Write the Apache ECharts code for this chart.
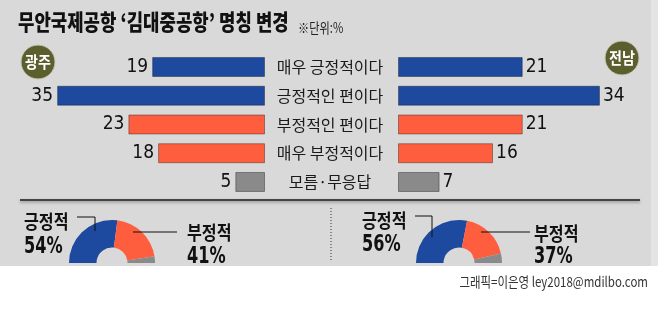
<!DOCTYPE html>
<html><head><meta charset="utf-8">
<script src="https://cdn.jsdelivr.net/npm/echarts@6/dist/echarts.min.js"></script>
<style>html,body{margin:0;padding:0;background:#fff}#c{width:658px;height:310px}</style>
</head><body><div id="c"></div>
<script>
var title = "무안국제공항 ‘김대중공항’ 명칭 변경";
var unitNote = "※단위:%";
var regions = ["광주", "전남"];
var categories = ["매우 긍정적이다", "긍정적인 편이다", "부정적인 편이다", "매우 부정적이다", "모름·무응답"];
var gwangju = [19, 35, 23, 18, 5];
var jeonnam = [21, 34, 21, 16, 7];
var summaryNames = ["긍정적", "부정적", "모름·무응답"];
var gwangjuSummary = [54, 41, 5];
var jeonnamSummary = [56, 37, 7];
var credit = "그래픽=이은영 ley2018@mdilbo.com";

var BLUE = "#1d4a9e", RED = "#ff5e3e", GRAY = "#8a8a8a";
var barColors = [BLUE, BLUE, RED, RED, GRAY];
var KR = "'Noto Sans CJK KR','Noto Sans',sans-serif";
var NUM = "'Liberation Sans Narrow','DejaVu Sans Condensed','Liberation Sans',sans-serif";

var chart = echarts.init(document.getElementById('c'), null, {renderer: 'canvas'});

function barData(vals) {
  return vals.map(function (v, i) {
    return {value: v, itemStyle: {color: barColors[i], borderColor: 'rgba(0,0,0,0.35)', borderWidth: 1}};
  });
}
function pieData(vals) {
  var cols = [BLUE, RED, GRAY];
  var d = vals.map(function (v, i) { return {name: summaryNames[i], value: v, itemStyle: {color: cols[i]}}; });
  var total = vals.reduce(function (a, b) { return a + b; }, 0);
  d.push({name: '', value: total, itemStyle: {color: 'rgba(0,0,0,0)'}});
  return d;
}

var XMAX = 40, PX = 5.94;
var W = XMAX * PX;
var gridTop = 52.6, gridH = 143.75;

function txt(x, y, s, font, sx, extra) {
  var st = {text: s, font: font, fill: '#111', textVerticalAlign: 'middle'};
  if (extra) for (var k in extra) st[k] = extra[k];
  return {type: 'text', x: x, y: y, scaleX: sx, style: st};
}

var option = {
  animation: false,
  backgroundColor: '#ffffff',
  grid: [
    {left: 265 - W, width: W, top: gridTop, height: gridH},
    {left: 398, width: W, top: gridTop, height: gridH}
  ],
  xAxis: [
    {gridIndex: 0, type: 'value', min: 0, max: XMAX, inverse: true, show: false},
    {gridIndex: 1, type: 'value', min: 0, max: XMAX, show: false}
  ],
  yAxis: [
    {gridIndex: 0, type: 'category', data: categories, inverse: true, show: false},
    {gridIndex: 1, type: 'category', data: categories, inverse: true,
     axisLine: {show: false}, axisTick: {show: false}, splitLine: {show: false},
     axisLabel: {show: true, align: 'center', margin: 68, color: '#1a1a1a', fontSize: 16, fontFamily: KR}}
  ],
  graphic: [
    {type: 'rect', z: -10, shape: {x: 0, y: 0, width: 651, height: 266}, style: {fill: '#d9d9d9'}},
    {type: 'rect', z: -10, shape: {x: 651, y: 0, width: 7, height: 266}, style: {fill: '#e4e4e4'}},
    txt(18, 22, title, '900 22px ' + KR, 0.81),
    txt(298, 28, unitNote, '14px ' + KR, 0.8, {fill: '#222'}),
    {type: 'circle', shape: {cx: 38, cy: 62, r: 17}, style: {fill: '#5b5f2e', stroke: '#c9c9b8', lineWidth: 1}},
    txt(38, 62, regions[0], 'bold 16px ' + KR, 0.88, {fill: '#fff', textAlign: 'center'}),
    {type: 'circle', shape: {cx: 622, cy: 58, r: 17}, style: {fill: '#5b5f2e', stroke: '#c9c9b8', lineWidth: 1}},
    txt(622, 58, regions[1], 'bold 16px ' + KR, 0.88, {fill: '#fff', textAlign: 'center'}),
    {type: 'line', shape: {x1: 20, y1: 200, x2: 640, y2: 200}, style: {stroke: '#444', lineWidth: 2, shadowColor: 'rgba(0,0,0,0.35)', shadowBlur: 3, shadowOffsetY: 1.5}},
    {type: 'line', shape: {x1: 331, y1: 208, x2: 331, y2: 262}, style: {stroke: '#333', lineWidth: 1, lineDash: [1, 2]}},
    // left donut labels
    txt(24, 222, summaryNames[0], 'bold 19px ' + KR, 0.85),
    txt(24, 247, gwangjuSummary[0] + '%', 'bold 23px ' + NUM, 0.78),
    txt(187, 233, summaryNames[1], 'bold 19px ' + KR, 0.85),
    txt(187, 257, gwangjuSummary[1] + '%', 'bold 23px ' + NUM, 0.78),
    {type: 'polyline', z: 10, shape: {points: [[77, 217], [95, 217], [95, 231]]}, style: {stroke: '#111', lineWidth: 1, fill: null}},
    {type: 'line', z: 10, shape: {x1: 133, y1: 232, x2: 177, y2: 232}, style: {stroke: '#111', lineWidth: 1}},
    // right donut labels
    txt(362, 221, summaryNames[0], 'bold 19px ' + KR, 0.85),
    txt(362, 245, jeonnamSummary[0] + '%', 'bold 23px ' + NUM, 0.78),
    txt(534, 234, summaryNames[1], 'bold 19px ' + KR, 0.85),
    txt(534, 257, jeonnamSummary[1] + '%', 'bold 23px ' + NUM, 0.78),
    {type: 'polyline', z: 10, shape: {points: [[415, 216], [432, 216], [432, 237]]}, style: {stroke: '#111', lineWidth: 1, fill: null}},
    {type: 'line', z: 10, shape: {x1: 481, y1: 232, x2: 530, y2: 232}, style: {stroke: '#111', lineWidth: 1}},
    txt(648, 282, credit, '14px ' + KR, 0.82, {fill: '#333', textAlign: 'right'})
  ],
  series: [
    {type: 'bar', xAxisIndex: 0, yAxisIndex: 0, barWidth: 20, data: barData(gwangju), silent: true,
     label: {show: true, position: 'left', distance: 4, color: '#111', fontSize: 19, fontFamily: NUM}},
    {type: 'bar', xAxisIndex: 1, yAxisIndex: 1, barWidth: 20, data: barData(jeonnam), silent: true,
     label: {show: true, position: 'right', distance: 3, color: '#111', fontSize: 19, fontFamily: NUM}},
    {type: 'pie', center: [112, 263], radius: [15.5, 43], startAngle: 180, clockwise: true, silent: true,
     label: {show: false}, labelLine: {show: false}, data: pieData(gwangjuSummary)},
    {type: 'pie', center: [459, 263], radius: [15.5, 43], startAngle: 180, clockwise: true, silent: true,
     label: {show: false}, labelLine: {show: false}, data: pieData(jeonnamSummary)}
  ]
};
chart.setOption(option);
</script></body></html>
